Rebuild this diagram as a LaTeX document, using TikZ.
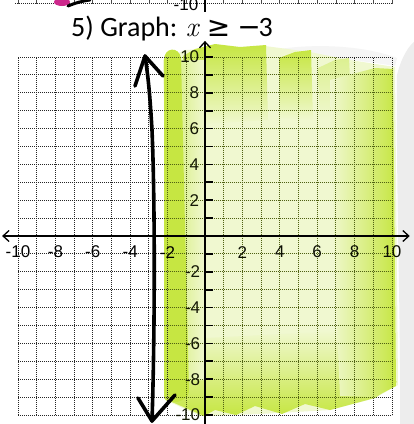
\documentclass[tikz,border=0pt]{standalone}
\usepackage{fontspec}
\setmainfont{Carlito}
\newfontfamily\lblfont{Liberation Sans}
\newfontfamily\lmr{Latin Modern Roman}
\newfontfamily\symfont{DejaVu Sans}
\usetikzlibrary{arrows.meta}
\definecolor{hlstrong}{RGB}{198,230,66}
\definecolor{hlmid}{RGB}{220,240,145}
\definecolor{hlpale}{RGB}{240,248,208}
\definecolor{inkgreen}{RGB}{80,98,18}
\definecolor{pinkmark}{RGB}{205,40,140}
\begin{document}
\begin{tikzpicture}[x=1pt,y=-1pt,
  gridline/.style={line width=0.9pt, dash pattern=on 1.1pt off 0.9pt},
  axisline/.style={black, line width=1.5pt},
  barb/.style={-{Straight Barb[length=6pt,width=11pt,line width=1.3pt]}},
  ticklbl/.style={font=\lblfont\fontsize{17}{17}\selectfont, inner sep=0pt},
  titlefont/.style={font=\fontsize{28}{28}\selectfont, inner sep=0pt},
  smudgefill/.style={fill=black!7, draw=none},
  pen/.style={black, line width=3.6pt, line cap=round, line join=round}]
\useasboundingbox (0,0) rectangle (414,424);
\clip (0,0) rectangle (414,424);
\fill[white] (0,0) rectangle (414,424);
% paper shading
\fill[smudgefill] (397,75) .. controls (402,55) and (410,45) .. (414,42) -- (414,424) -- (400,424) .. controls (401,320) and (396,200) .. cycle;
\fill[black!4] (255,54) .. controls (300,42) and (360,44) .. (397,58) -- (395,66) .. controls (360,60) and (300,54) .. cycle;
% highlighter (under the ink)
\def\hlregion{(163,60) -- (185,50) -- (265,46) -- (310,52) -- (350,60) -- (395,67) -- (398,385) -- (375,398) -- (330,410) -- (260,414) -- (200,416) -- (170,402) -- cycle}
\fill[hlpale] \hlregion;
\shade[top color=hlstrong, bottom color=hlpale] (183,56) -- (195,49) -- (215,44) -- (240,47) -- (266,45) -- (268,120) -- (186,125) -- cycle;
\shade[top color=hlstrong, bottom color=hlpale] (279,58) -- (295,52) -- (311,50) -- (313,120) -- (280,118) -- cycle;
\shade[top color=hlmid, bottom color=hlpale] (318,68) -- (335,60) -- (349,58) -- (352,120) -- (320,120) -- cycle;
\shade[top color=hlpale, bottom color=hlstrong] (168,340) -- (356,330) -- (397,382) -- (375,398) -- (330,410) -- (305,404) -- (282,414) -- (255,406) -- (236,415) -- (215,410) -- (204,416) -- (172,402) -- cycle;
\shade[left color=hlpale, right color=hlstrong] (330,80) -- (375,68) -- (393,69) -- (396,386) -- (375,397) -- (340,396) -- (336,300) -- cycle;
\shade[left color=hlmid, right color=hlpale] (180,60) -- (205,60) -- (205,380) -- (186,380) -- cycle;
\fill[hlstrong] (164,398) -- (164,60) .. controls (164,47) and (179,46) .. (181,58) -- (189,392) .. controls (188,402) and (168,406) .. cycle;
% previous graph (cut off at top)
\draw[gridline, black!85] (15,3) -- (392,3);
\foreach \u in {-10,...,10} \draw[black!70, line width=0.8pt] ({205+18.7*\u},0) -- ({205+18.7*\u},4);
\draw[axisline] (205,0) -- (205,12);
\node[ticklbl, anchor=south] (prevlbl) at (186,11) {-10};
\fill[pinkmark] (62,2) ellipse [x radius=8, y radius=4];
\draw[pen, line width=3pt] (68,6) .. controls (75,3) and (82,1) .. (90,0);
% current graph
\begin{scope}[shift={(205pt,-236pt)}, x=18.7pt, y=17.9pt]
  \foreach \i in {-10,...,10} {
    \draw[gridline, black!85] (\i,-10) -- (\i,10);
    \draw[gridline, black!85] (-10,\i) -- (10,\i);
  }
\end{scope}
\begin{scope}
  \clip \hlregion;
  \begin{scope}[shift={(205pt,-236pt)}, x=18.7pt, y=17.9pt]
    \foreach \i in {-10,...,10} {
      \draw[gridline, inkgreen] (\i,-10) -- (\i,10);
      \draw[gridline, inkgreen] (-10,\i) -- (10,\i);
    }
  \end{scope}
\end{scope}
\begin{scope}[shift={(205pt,-236pt)}, x=18.7pt, y=17.9pt]
  \coordinate (xl) at (-10.85,0);
  \coordinate (xr) at (10.95,0);
  \coordinate (yt) at (0,10.9);
  \coordinate (yb) at (0,-10.6);
  \draw[axisline, barb] (0,0) -- (xl);
  \draw[axisline, barb] (0,0) -- (xr);
  \draw[axisline, barb] (yb) -- (yt);
  \foreach \j in {-10,...,-1,1,2,...,10} \draw[black, line width=1.7pt] (0,\j) ++(-1pt,0) -- ++(9pt,0);
  \foreach \i in {-10,-8,-6,-4,-2} \node[ticklbl] (xlab\i) at (\i,-0.9) {\i};
  \foreach \i in {2,4,6,8,10} \node[ticklbl, text=black!85!inkgreen] (xlab\i) at (\i,-0.9) {\i};
  \foreach \j in {2,4,6,8,10} \node[ticklbl, anchor=east, text=black!75!inkgreen] (ylab\j) at (-0.3,\j) {\j};
  \foreach \j in {-2,-4,-6,-8,-10} \node[ticklbl, anchor=east, text=black!75!inkgreen] (ylab\j) at (-0.25,\j) {\j};
\end{scope}
% hand-drawn boundary line x = -3
\draw[pen] (152,421) .. controls (155,330) and (155,200) .. (152,130) .. controls (150,95) and (148,75) .. (145,56);
\draw[pen] (135,86) -- (145,56) -- (163,76);
\draw[pen] (138,398) -- (152,421) -- (175,395);
% title
\node[titlefont] (title) at (172,29) {5) Graph: {\lmr\itshape x}\hspace{0.3em}{\symfont ≥}\hspace{0.25em}{\symfont −}\hspace{-0.08em}3};
\end{tikzpicture}
\end{document}
